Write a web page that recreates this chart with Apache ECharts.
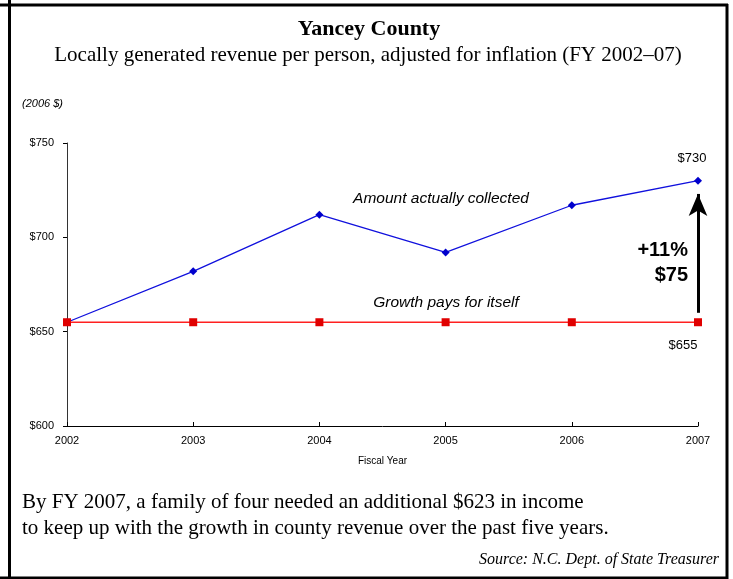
<!DOCTYPE html>
<html><head><meta charset="utf-8">
<script src="https://cdn.jsdelivr.net/npm/echarts@6/dist/echarts.min.js"></script>
<style>html,body{margin:0;padding:0;background:#fff}#c{width:733px;height:579px}</style>
</head><body><div id="c"></div>
<script>
const years = ['2002','2003','2004','2005','2006','2007'];
const collected = [655, 682, 712, 692, 717, 730];
const growthPays = [655, 655, 655, 655, 655, 655];
const yTicks = [600, 650, 700, 750];
const arrowFrom = 660, arrowTo = 723;

const chart = echarts.init(document.getElementById('c'));
const serif = '"Liberation Serif", "DejaVu Serif", serif';
const sans = '"Liberation Sans", Arial, sans-serif';
chart.setOption({
  animation: false,
  grid: {left: 67, right: 35, top: 143, bottom: 153},
  xAxis: {
    type: 'category', data: years, boundaryGap: false,
    name: 'Fiscal Year', nameLocation: 'middle', nameGap: 30,
    nameTextStyle: {fontFamily: sans, fontSize: 10, color: '#000'},
    axisLine: {lineStyle: {color: '#000', width: 1}},
    axisTick: {inside: true, length: 4, lineStyle: {color: '#000'}},
    axisLabel: {fontFamily: sans, fontSize: 11, color: '#000', margin: 9}
  },
  yAxis: {
    type: 'value', min: yTicks[0], max: yTicks[yTicks.length-1], interval: 50,
    splitLine: {show: false},
    axisLine: {show: true, lineStyle: {color: '#333', width: 1}},
    axisTick: {show: true, length: 4, lineStyle: {color: '#000'}},
    axisLabel: {fontFamily: sans, fontSize: 11, color: '#000', margin: 13, formatter: v => '$' + v}
  },
  series: [
    {
      type: 'line', data: collected, color: '#0000cc',
      symbol: 'diamond', symbolSize: 8,
      lineStyle: {color: '#1010dd', width: 1.3},
      itemStyle: {color: '#0000cc'},
      label: {show: true, position: 'top', distance: 12, offset: [-6, 0], fontFamily: sans, fontSize: 13, color: '#000',
        formatter: p => p.dataIndex === years.length - 1 ? '$' + p.value : ''},
      markLine: {
        silent: true, symbol: ['none', 'arrow'], symbolSize: [14, 22],
        lineStyle: {color: '#000', width: 3, type: 'solid'},
        label: {show: false},
        data: [[{coord: ['2007', arrowFrom]}, {coord: ['2007', arrowTo]}]]
      },
      z: 2
    },
    {
      type: 'line', data: growthPays, color: '#e00000',
      symbol: 'rect', symbolSize: 8,
      lineStyle: {color: '#ff2020', width: 1.5},
      itemStyle: {color: '#e00000'},
      label: {show: true, position: 'bottom', distance: 13, offset: [-15, 0], fontFamily: sans, fontSize: 13, color: '#000',
        formatter: p => p.dataIndex === years.length - 1 ? '$' + p.value : ''},
      z: 3
    }
  ],
  graphic: [
    {type: 'line', shape: {x1: 0, y1: 5, x2: 728, y2: 5}, style: {stroke: '#000', lineWidth: 3}},
    {type: 'line', shape: {x1: 9.5, y1: 0, x2: 9.5, y2: 579}, style: {stroke: '#000', lineWidth: 3}},
    {type: 'line', shape: {x1: 727, y1: 4, x2: 727, y2: 579}, style: {stroke: '#000', lineWidth: 3}},
    {type: 'line', shape: {x1: 0, y1: 578, x2: 728, y2: 578}, style: {stroke: '#000', lineWidth: 3}},
    {type: 'text', x: 369, y: 18, style: {text: 'Yancey County', font: 'bold 22px ' + serif, fill: '#000', textAlign: 'center'}},
    {type: 'text', x: 368, y: 45, style: {text: 'Locally generated revenue per person, adjusted for inflation (FY 2002\u201307)', font: '21px ' + serif, fill: '#000', textAlign: 'center'}},
    {type: 'text', x: 22, y: 98, style: {text: '(2006 $)', font: 'italic 11px ' + sans, fill: '#000'}},
    {type: 'text', x: 441, y: 191, style: {text: 'Amount actually collected', font: 'italic 15.5px ' + sans, fill: '#000', textAlign: 'center'}},
    {type: 'text', x: 446, y: 295, style: {text: 'Growth pays for itself', font: 'italic 15.5px ' + sans, fill: '#000', textAlign: 'center'}},
    {type: 'text', x: 688, y: 240, style: {text: '+11%', font: 'bold 20px ' + sans, fill: '#000', textAlign: 'right'}},
    {type: 'text', x: 688, y: 265, style: {text: '$75', font: 'bold 20px ' + sans, fill: '#000', textAlign: 'right'}},
    {type: 'text', x: 22, y: 492, style: {text: 'By FY 2007, a family of four needed an additional $623 in income', font: '21px ' + serif, fill: '#000'}},
    {type: 'text', x: 22, y: 518, style: {text: 'to keep up with the growth in county revenue over the past five years.', font: '21px ' + serif, fill: '#000'}},
    {type: 'text', x: 719, y: 552, style: {text: 'Source: N.C. Dept. of State Treasurer', font: 'italic 16px ' + serif, fill: '#000', textAlign: 'right'}}
  ]
});
</script></body></html>
